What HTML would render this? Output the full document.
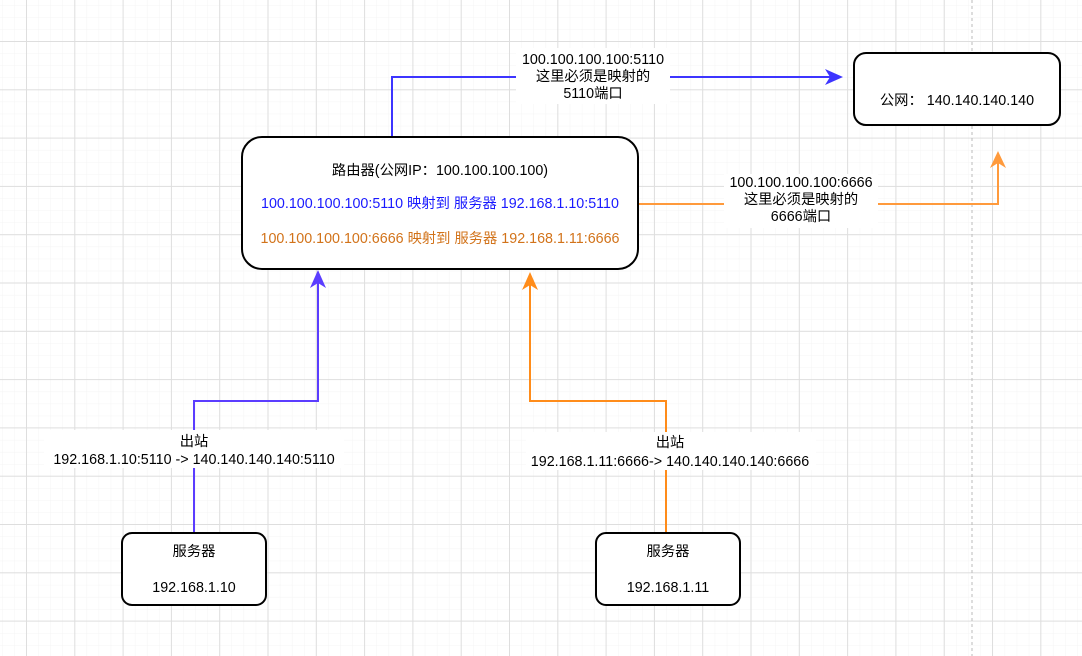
<!DOCTYPE html>
<html><head><meta charset="utf-8"><style>
html,body{margin:0;padding:0;background:#fff;}
svg{display:block;font-family:"Liberation Sans","Noto Sans CJK SC",sans-serif;}
svg text{font-size:14.3px;}
</style></head><body>
<svg width="1082" height="656" viewBox="0 0 1082 656" xmlns="http://www.w3.org/2000/svg">
<defs>
<pattern id="minor" width="12.08" height="12.08" patternUnits="userSpaceOnUse" x="2" y="5">
<path d="M0 0H12.08M0 0V12.08" stroke="#f4f4f4" stroke-width="1" fill="none"/>
</pattern>
<pattern id="major" width="48.3" height="48.3" patternUnits="userSpaceOnUse" x="26" y="41">
<path d="M0.5 0V48.3M0 0.5H48.3" stroke="#dedede" stroke-width="1" fill="none"/>
</pattern>
</defs>
<rect width="1082" height="656" fill="url(#minor)"/>
<rect width="1082" height="656" fill="url(#major)"/>
<line x1="972" y1="0" x2="972" y2="656" stroke="#bbb" stroke-dasharray="3,3"/>

<polyline points="392,137 392,77 830,77" fill="none" stroke="#3d35ff" stroke-width="2"/>
<polygon points="843,77 825,69 830,77 825,85" fill="#3d35ff"/>
<rect x="516" y="48" width="154" height="56" fill="#fff"/>
<text x="593" y="64" text-anchor="middle">100.100.100.100:5110</text>
<text x="593" y="81" text-anchor="middle">这里必须是映射的</text>
<text x="593" y="98" text-anchor="middle">5110端口</text>

<polyline points="638,204 998,204 998,163" fill="none" stroke="#ff9a3c" stroke-width="2"/>
<polygon points="998,151 990,168 998,163 1006,168" fill="#ff9a3c"/>
<rect x="724" y="174" width="154" height="54" fill="#fff"/>
<text x="801" y="187" text-anchor="middle">100.100.100.100:6666</text>
<text x="801" y="204" text-anchor="middle">这里必须是映射的</text>
<text x="801" y="221" text-anchor="middle">6666端口</text>

<polyline points="194,533 194,401 318,401 318,283" fill="none" stroke="#5b3dff" stroke-width="2"/>
<polygon points="318,270 310,288 318,283 326,288" fill="#5b3dff"/>
<rect x="44" y="430" width="300" height="38" fill="#fff"/>
<text x="194" y="446" text-anchor="middle">出站</text>
<text x="194" y="464" text-anchor="middle">192.168.1.10:5110  -&gt; 140.140.140.140:5110</text>

<polyline points="666,533 666,401 530,401 530,285" fill="none" stroke="#ff8c1a" stroke-width="2"/>
<polygon points="530,272 522,290 530,285 538,290" fill="#ff8c1a"/>
<rect x="526" y="432" width="290" height="38" fill="#fff"/>
<text x="670" y="447" text-anchor="middle">出站</text>
<text x="670" y="466" text-anchor="middle">192.168.1.11:6666-&gt; 140.140.140.140:6666</text>

<rect x="242" y="137" width="396" height="132" rx="20" fill="#fff" stroke="#000" stroke-width="2"/>
<text x="440" y="175" text-anchor="middle">路由器(公网IP：100.100.100.100)</text>
<text x="440" y="208" text-anchor="middle" fill="#1a1aff">100.100.100.100:5110 映射到 服务器 192.168.1.10:5110</text>
<text x="440" y="243" text-anchor="middle" fill="#d2731a">100.100.100.100:6666 映射到 服务器 192.168.1.11:6666</text>

<rect x="854" y="53" width="206" height="72" rx="12" fill="#fff" stroke="#000" stroke-width="2"/>
<text x="957" y="105" text-anchor="middle">公网： 140.140.140.140</text>

<rect x="122" y="533" width="144" height="72" rx="10" fill="#fff" stroke="#000" stroke-width="2"/>
<text x="194" y="556" text-anchor="middle">服务器</text>
<text x="194" y="592" text-anchor="middle">192.168.1.10</text>
<rect x="596" y="533" width="144" height="72" rx="10" fill="#fff" stroke="#000" stroke-width="2"/>
<text x="668" y="556" text-anchor="middle">服务器</text>
<text x="668" y="592" text-anchor="middle">192.168.1.11</text>
</svg>
</body></html>
